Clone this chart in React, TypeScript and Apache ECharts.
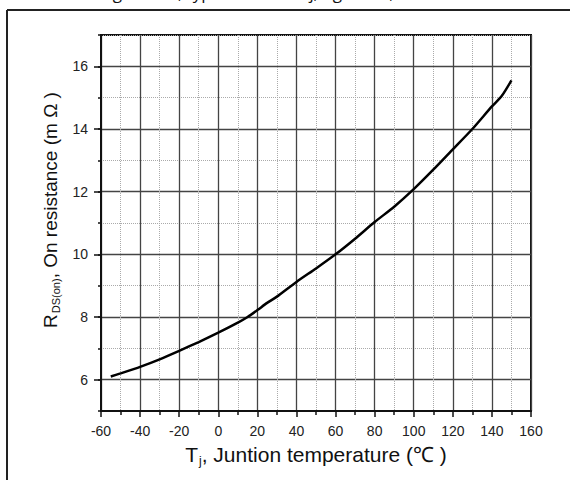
import React, { useEffect, useRef } from "react";
import * as echarts from "echarts";

// Junction temperature (°C)
const temps = [-55, -50, -40, -30, -20, -10, 0, 10, 15, 20, 25, 30, 40, 50, 60, 70, 80, 90, 100, 110, 120, 130, 140, 145, 150];
// R_DS(on) (mΩ)
const rdson = [6.1, 6.2, 6.41, 6.65, 6.92, 7.2, 7.5, 7.82, 8.0, 8.22, 8.45, 8.65, 9.12, 9.55, 10.0, 10.5, 11.03, 11.52, 12.08, 12.7, 13.35, 14.0, 14.72, 15.05, 15.55];

const xMin = -60;
const xMax = 160;
const xStep = 20;
const yMin = 5;
const yMax = 17;
const yStep = 1;

const titleText = "Diagram 11, typ. Rdson vs. Tj; Vgs=10V; Id=20A";
const xName = "{m|T}{sub|j}{m|, Juntion temperature (℃ )}";
const yName = "{m|R}{sub|DS(on)}{m|, On resistance (m Ω )}";

const FONT = "Arial";

export default function App() {
  const ref = useRef<HTMLDivElement>(null);
  useEffect(() => {
    if (!ref.current) return;
    const chart = echarts.init(ref.current, null, { renderer: "svg" });
    const data = temps.map((t, i) => [t, rdson[i]]);
    const xRich = {
      m: { fontSize: 21, fontFamily: FONT, color: "#111", lineHeight: 26 },
      sub: { fontSize: 12, fontFamily: FONT, color: "#111", lineHeight: 12, padding: [12, 0, 0, 1] },
    };
    const yRich = {
      m: { fontSize: 19, fontFamily: FONT, color: "#111", lineHeight: 24 },
      sub: { fontSize: 11, fontFamily: FONT, color: "#111", lineHeight: 11, padding: [12, 0, 0, 1] },
    };
    chart.setOption({
      animation: false,
      backgroundColor: "#ffffff",
      textStyle: { fontFamily: FONT },
      grid: [
        { left: 101, right: 39, top: 35, bottom: 69, show: true, borderColor: "#111", borderWidth: 2, backgroundColor: "transparent" },
        { left: 94, width: 7, top: 35, bottom: 69, show: false },
      ],
      xAxis: [
        {
          type: "value",
          gridIndex: 0,
          min: xMin,
          max: xMax,
          interval: xStep,
          axisLine: { show: true, onZero: false, lineStyle: { color: "#111", width: 2 } },
          axisTick: { show: true, length: 6, lineStyle: { color: "#111", width: 1.5 } },
          minorTick: { show: true, splitNumber: 2, length: 4, lineStyle: { color: "#111", width: 1.5 } },
          splitLine: { show: true, lineStyle: { color: "#444", width: 1.3 } },
          minorSplitLine: { show: true, lineStyle: { color: "#aaa", width: 1, type: "dotted" } },
          axisLabel: { fontSize: 14, color: "#222", fontFamily: FONT, margin: 13 },
          name: xName,
          nameLocation: "middle",
          nameGap: 29,
          nameTextStyle: { fontSize: 21, color: "#111", fontFamily: FONT, rich: xRich },
        },
        { type: "value", gridIndex: 1, min: 0, max: 1, show: false },
      ],
      yAxis: [
        {
          type: "value",
          gridIndex: 0,
          min: yMin,
          max: yMax,
          interval: yStep,
          axisLine: { show: true, onZero: false, lineStyle: { color: "#111", width: 2 } },
          axisTick: { show: true, length: 3, lineStyle: { color: "#111", width: 1.5 } },
          splitLine: { show: true, lineStyle: { color: ["transparent", "#444"], width: 1.3 } },
          axisLabel: {
            fontSize: 14,
            color: "#222",
            fontFamily: FONT,
            margin: 13,
            formatter: (v: number) => (v % 2 === 0 ? String(v) : ""),
          },
          name: yName,
          nameLocation: "middle",
          nameGap: 38,
          nameRotate: 90,
          nameTextStyle: { fontSize: 19, color: "#111", fontFamily: FONT, rich: yRich, padding: [0, 0, 0, 26] },
        },
        {
          type: "value",
          gridIndex: 0,
          position: "left",
          min: yMin,
          max: yMax,
          interval: yStep,
          axisLine: { show: false },
          axisTick: { show: false },
          axisLabel: { show: false },
          splitLine: { show: true, lineStyle: { color: ["#aaa", "transparent"], width: 1, type: "dotted" } },
        },
        {
          type: "value",
          gridIndex: 1,
          min: yMin,
          max: yMax,
          interval: yStep,
          axisLine: { show: false },
          axisTick: { show: false },
          axisLabel: { show: false },
          splitLine: { show: true, lineStyle: { color: ["transparent", "#111"], width: 1.5 } },
        },
      ],
      series: [
        {
          type: "line",
          xAxisIndex: 0,
          yAxisIndex: 0,
          data,
          smooth: 0.2,
          showSymbol: false,
          symbol: "none",
          lineStyle: { color: "#000", width: 2.5 },
          z: 5,
        },
      ],
      graphic: [
        {
          type: "text",
          x: 270,
          y: 1,
          style: { text: titleText, fontSize: 17, fontFamily: "'Open Sans', sans-serif", fill: "#111", align: "center", verticalAlign: "bottom" },
        },
        { type: "line", shape: { x1: 7, y1: 10, x2: 570, y2: 10 }, style: { stroke: "#222", lineWidth: 2 } },
        { type: "line", shape: { x1: 7, y1: 10, x2: 7, y2: 480 }, style: { stroke: "#222", lineWidth: 2 } },
      ],
    });
    return () => chart.dispose();
  }, []);
  return <div ref={ref} style={{ position: "absolute", left: 0, top: 0, width: 570, height: 480 }} />;
}
